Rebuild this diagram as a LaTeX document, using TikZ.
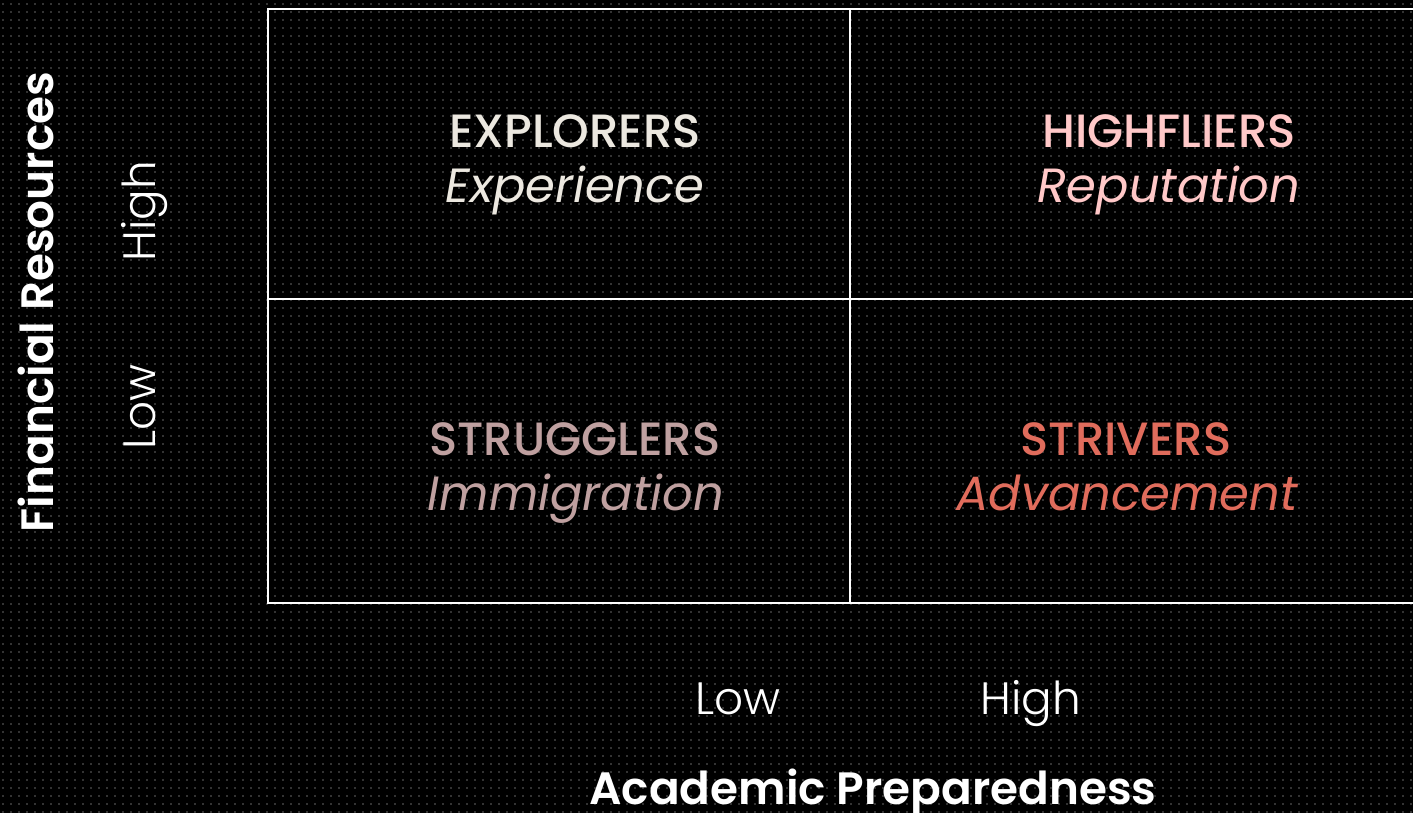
\documentclass[tikz,border=0pt]{standalone}
\usepackage{fontspec}
\setmainfont{Poppins}
\newfontfamily\mediumfont{Poppins Medium}
\newfontfamily\semiboldfont{Poppins SemiBold}
\newfontfamily\lightfont{Poppins Light}
\usepackage{xcolor}
\definecolor{dotgray}{HTML}{333333}
\definecolor{explorercol}{HTML}{ECE8E0}
\definecolor{highflyercol}{HTML}{FFC8C8}
\definecolor{strugglercol}{HTML}{BFA0A0}
\definecolor{strivercol}{HTML}{E06C5C}
\tikzset{
  gridline/.style={draw=white, line width=1.5pt},
  dotrow/.style={dotgray, line width=1.1pt, dash pattern=on 1.1pt off 4.9pt, dash phase=-1.7pt},
  title/.style={anchor=base, inner sep=0pt, font=\fontsize{35}{40}\mediumfont},
  motive/.style={anchor=base, inner sep=0pt, font=\fontsize{36}{40}\selectfont\itshape},
  level/.style={anchor=base, inner sep=0pt, white, font=\fontsize{34}{38}\lightfont},
  axis/.style={anchor=base, inner sep=0pt, white, font=\fontsize{34}{38}\semiboldfont}
}
\begin{document}
\begin{tikzpicture}[x=0.75pt, y=-0.75pt]
\useasboundingbox (0, 0) rectangle (1413, 813);
\clip (0, 0) rectangle (1413, 813);
\fill [black] (0, 0) rectangle (1413, 813);
% dotted background
\foreach \y in {4, 12, ..., 812}
  \draw [dotrow] (0, \y) -- (1413, \y);
% quadrant grid
\draw [gridline] (268, 9) rectangle (1430, 603);
\draw [gridline] (268, 299) -- (1430, 299);
\draw [gridline] (850, 9) -- (850, 603);
% quadrant labels
\node [title, explorercol] (explorers) at (575, 148) {EXPLORERS};
\node [motive, explorercol] (experience) at (575, 203) {Experience};
\node [title, highflyercol] (highfliers) at (1169, 148) {HIGHFLIERS};
\node [motive, highflyercol] (reputation) at (1169, 203) {Reputation};
\node [title, strugglercol] (strugglers) at (575, 455) {STRUGGLERS};
\node [motive, strugglercol] (immigration) at (576, 510) {Immigration};
\node [title, strivercol] (strivers) at (1126, 455) {STRIVERS};
\node [motive, strivercol] (advancement) at (1127, 510) {Advancement};
% axis levels
\node [level] (acadlow) at (738, 714) {Low};
\node [level] (acadhigh) at (1031, 714) {High};
\node [level, rotate=90] (finhigh) at (155, 211) {High};
\node [level, rotate=90] (finlow) at (155, 407) {Low};
% axis titles
\node [axis] (acadtitle) at (873, 804) {Academic Preparedness};
\node [axis, rotate=90] (fintitle) at (53, 302) {Financial Resources};
\end{tikzpicture}
\end{document}
